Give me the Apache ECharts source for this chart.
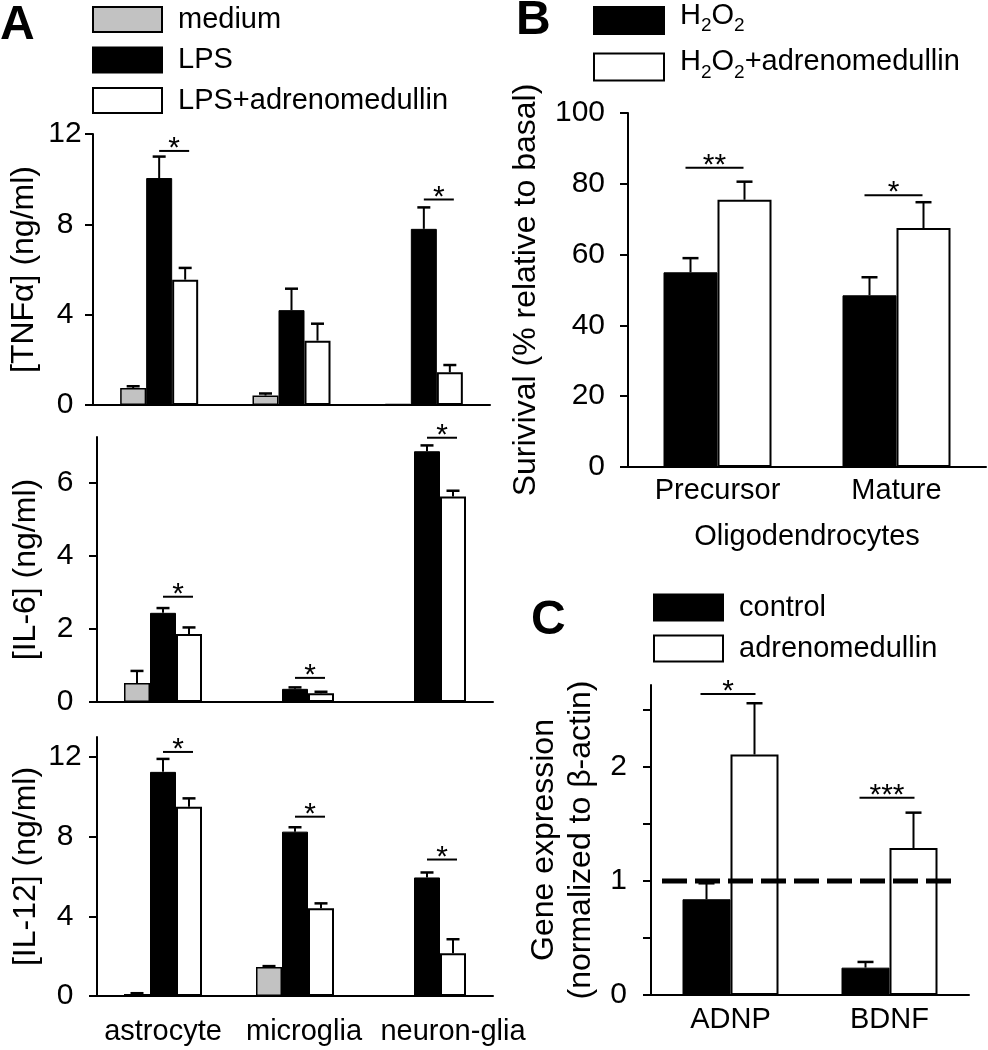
<!DOCTYPE html>
<html>
<head>
<meta charset="utf-8">
<script src="https://cdn.jsdelivr.net/npm/echarts@6/dist/echarts.min.js"></script>
<style>
  html, body { margin: 0; padding: 0; background: #fff; }
  #chart { width: 988px; height: 1050px; }
</style>
</head>
<body>
<div id="chart"></div>
<script>
// ---- panel A: cytokines (ng/ml), mean and SEM ----
const cellTypes = ['astrocyte', 'microglia', 'neuron-glia'];

const tnfMedium = [0.75, 0.42, 0.04];
const tnfMediumSem = [0.08, 0.09, 0];
const tnfLps = [10.05, 4.2, 7.8];
const tnfLpsSem = [0.95, 0.95, 0.95];
const tnfLpsAdm = [5.55, 2.85, 1.45];
const tnfLpsAdmSem = [0.52, 0.75, 0.32];
const tnfSig = [[0, 11.25, '*'], [2, 9.1, '*']];

const il6Medium = [0.52, null, null];
const il6MediumSem = [0.33, 0, 0];
const il6Lps = [2.44, 0.36, 6.86];
const il6LpsSem = [0.13, 0.04, 0.16];
const il6LpsAdm = [1.86, 0.24, 5.62];
const il6LpsAdmSem = [0.18, 0.04, 0.16];
const il6Sig = [[0, 2.88, '*'], [1, 0.66, '*'], [2, 7.23, '*']];

const il12Medium = [0.1, 1.45, null];
const il12MediumSem = [0.04, 0.05, 0];
const il12Lps = [11.25, 8.25, 5.95];
const il12LpsSem = [0.65, 0.22, 0.25];
const il12LpsAdm = [9.5, 4.4, 2.15];
const il12LpsAdmSem = [0.42, 0.25, 0.7];
const il12Sig = [[0, 12.25, '*'], [1, 9.0, '*'], [2, 6.85, '*']];

// ---- panel B: survival (% relative to basal) ----
const oligoStages = ['Precursor', 'Mature'];
const h2o2 = [55, 48.5];
const h2o2Sem = [4, 5.1];
const h2o2Adm = [75.5, 67.5];
const h2o2AdmSem = [5.1, 7.3];
const survivalSig = [[0, 84.5, '**'], [1, 76.8, '*']];

// ---- panel C: gene expression (normalized to beta-actin) ----
const genes = ['ADNP', 'BDNF'];
const control = [0.84, 0.24];
const controlSem = [0.14, 0.05];
const adm = [2.11, 1.29];
const admSem = [0.45, 0.31];
const geneSig = [[0, 2.64, '*'], [1, 1.73, '***']];
const baseline = 1;

const FONT = 'Liberation Sans, Arial, Helvetica, sans-serif';
const GRAY = '#c2c2c2';

const myChart = echarts.init(document.getElementById('chart'));

function bars(name, data, grid, color, width, border) {
  return {
    name: name,
    type: 'bar',
    xAxisIndex: grid,
    yAxisIndex: grid,
    data: data.map(v => (v === null ? '-' : v)),
    barWidth: width,
    barGap: '0%',
    itemStyle: { color: color, borderColor: '#000', borderWidth: border },
    emphasis: { disabled: true },
    z: 2
  };
}

// upper error bars drawn through the axes
function errors(grid, means, sems, offset, capW) {
  const pts = [];
  means.forEach((m, i) => {
    if (m !== null && sems[i] > 0) pts.push([i, m, sems[i]]);
  });
  return {
    type: 'custom',
    xAxisIndex: grid,
    yAxisIndex: grid,
    silent: true,
    z: 5,
    data: pts,
    renderItem: (params, api) => {
      const p0 = api.coord([api.value(0), api.value(1)]);
      const p1 = api.coord([api.value(0), api.value(1) + api.value(2)]);
      const x = p0[0] + offset;
      return {
        type: 'group',
        children: [
          { type: 'line', shape: { x1: x, y1: p0[1], x2: x, y2: p1[1] }, style: { stroke: '#000', lineWidth: 2 } },
          { type: 'line', shape: { x1: x - capW / 2, y1: p1[1], x2: x + capW / 2, y2: p1[1] }, style: { stroke: '#000', lineWidth: 2.5 } }
        ]
      };
    }
  };
}

// significance bar + stars
function stars(grid, marks, x0, x1) {
  return {
    type: 'custom',
    xAxisIndex: grid,
    yAxisIndex: grid,
    silent: true,
    z: 6,
    data: marks.map(m => [m[0], m[1]]),
    renderItem: (params, api) => {
      const p = api.coord([api.value(0), api.value(1)]);
      return {
        type: 'group',
        children: [
          { type: 'line', shape: { x1: p[0] + x0, y1: p[1], x2: p[0] + x1, y2: p[1] }, style: { stroke: '#000', lineWidth: 2 } },
          {
            type: 'text', x: p[0] + (x0 + x1) / 2, y: p[1] - 2,
            style: { text: marks[params.dataIndex][2], font: '30px ' + FONT, fill: '#000', align: 'center', verticalAlign: 'middle' }
          }
        ]
      };
    }
  };
}

const axisLine = { lineStyle: { color: '#000', width: 2 } };
const tick = { length: 8, lineStyle: { color: '#000', width: 2 } };

function xAx(grid, cats, showLabel, margin, name, formatter, rich) {
  return {
    type: 'category',
    gridIndex: grid,
    data: cats,
    axisLine: axisLine,
    axisTick: { show: false },
    axisLabel: { show: showLabel, color: '#000', fontSize: 29, margin: margin, interval: 0, formatter: formatter, rich: rich },
    name: name || '',
    nameLocation: 'middle',
    nameGap: 55,
    nameTextStyle: { color: '#000', fontSize: 29 }
  };
}

function yAx(grid, max, tickVals, labelVals, name, gap, labelMargin, labelAlign, nameLH) {
  return {
    type: 'value',
    gridIndex: grid,
    min: 0,
    max: max,
    splitLine: { show: false },
    axisLine: Object.assign({ show: true }, axisLine),
    axisTick: Object.assign({ show: true, customValues: tickVals }, tick),
    axisLabel: { color: '#000', fontSize: 30, margin: labelMargin, align: labelAlign, customValues: labelVals },
    name: name,
    nameLocation: 'middle',
    nameGap: gap,
    nameTextStyle: { color: '#000', fontSize: 32, lineHeight: nameLH || 32 }
  };
}

// A's bottom labels sit a little right of their bar groups, as in the figure
const cellLabel = (v, i) => (i === 1 ? '{m|' + v + '}' : i === 2 ? '{g|' + v + '}' : v);
const cellRich = {
  m: { fontSize: 29, color: '#000', padding: [0, 0, 0, 18] },
  g: { fontSize: 29, color: '#000', padding: [0, 0, 0, 52] }
};

const option = {
  animation: false,
  backgroundColor: '#fff',
  textStyle: { fontFamily: FONT, color: '#000' },
  title: [
    { text: 'A', left: 0, top: 2, padding: 0, textStyle: { fontSize: 48, fontWeight: 'bold', color: '#000' } },
    { text: 'B', left: 516, top: -3, padding: 0, textStyle: { fontSize: 48, fontWeight: 'bold', color: '#000' } },
    { text: 'C', left: 531, top: 597, padding: 0, textStyle: { fontSize: 48, fontWeight: 'bold', color: '#000' } }
  ],
  legend: [
    {
      data: ['medium', 'LPS', 'LPS+adrenomedullin'],
      orient: 'vertical', left: 92, top: 5, padding: 0,
      itemWidth: 69, itemHeight: 25, itemGap: 11.5,
      selectedMode: false, icon: 'rect',
      textStyle: { fontSize: 29, color: '#000', padding: [0, 0, 0, 11] }
    },
    {
      data: ['H2O2', 'H2O2+adrenomedullin'],
      orient: 'vertical', left: 593, top: 1, padding: 0,
      itemWidth: 70, itemHeight: 27, itemGap: 12,
      selectedMode: false, icon: 'rect',
      formatter: n => n.replace('H2O2', '{n|H}{s|2}{n|O}{s|2}').replace('+adrenomedullin', '{n|+adrenomedullin}'),
      textStyle: {
        fontSize: 29, color: '#000', padding: [0, 0, 0, 11],
        rich: {
          n: { fontSize: 29, color: '#000', padding: [0, 0, 10, 0] },
          s: { fontSize: 19, color: '#000', padding: [11, 0, 0, 0] }
        }
      }
    },
    {
      data: ['control', 'adrenomedullin'],
      orient: 'vertical', left: 653, top: 593, padding: 0,
      itemWidth: 69, itemHeight: 26, itemGap: 12,
      selectedMode: false, icon: 'rect',
      textStyle: { fontSize: 29, color: '#000', padding: [0, 0, 0, 11] }
    }
  ],
  grid: [
    { left: 93, top: 134, width: 397, height: 271 },
    { left: 97, top: 437, width: 396, height: 265 },
    { left: 97, top: 737, width: 396, height: 259 },
    { left: 628, top: 113, width: 358, height: 354 },
    { left: 651, top: 685, width: 318, height: 310 }
  ],
  xAxis: [
    xAx(0, cellTypes, false, 20),
    xAx(1, cellTypes, false, 20),
    xAx(2, cellTypes, true, 21, '', cellLabel, cellRich),
    xAx(3, oligoStages, true, 9, 'Oligodendrocytes'),
    xAx(4, genes, true, 10)
  ],
  yAxis: [
    yAx(0, 12, [0, 4, 8, 12], [0, 4, 8, 12], '[TNF\u03b1] (ng/ml)', 53, 28, 'center'),
    yAx(1, 7.25, [0, 2, 4, 6], [0, 2, 4, 6], '[IL-6] (ng/ml)', 55, 32, 'center'),
    yAx(2, 13, [0, 4, 8, 12], [0, 4, 8, 12], '[IL-12] (ng/ml)', 55, 32, 'center'),
    yAx(3, 100, [0, 20, 40, 60, 80, 100], [0, 20, 40, 60, 80, 100], 'Surivival (% relative to basal)', 86, 23, 'right'),
    yAx(4, 2.72, [0, 0.5, 1, 1.5, 2, 2.5], [0, 1, 2], 'Gene expression\n(normalized to \u03b2-actin)', 51, 24, 'right', 37)
  ],
  series: [
    // A - TNF
    bars('medium', tnfMedium, 0, GRAY, 26, 1.5),
    bars('LPS', tnfLps, 0, '#000', 26, 1),
    bars('LPS+adrenomedullin', tnfLpsAdm, 0, '#fff', 26, 2),
    errors(0, tnfMedium, tnfMediumSem, -26, 13),
    errors(0, tnfLps, tnfLpsSem, 0, 13),
    errors(0, tnfLpsAdm, tnfLpsAdmSem, 26, 13),
    stars(0, tnfSig, 0, 30),
    // A - IL-6
    bars('medium', il6Medium, 1, GRAY, 26, 1.5),
    bars('LPS', il6Lps, 1, '#000', 26, 1),
    bars('LPS+adrenomedullin', il6LpsAdm, 1, '#fff', 26, 2),
    errors(1, il6Medium, il6MediumSem, -26, 13),
    errors(1, il6Lps, il6LpsSem, 0, 13),
    errors(1, il6LpsAdm, il6LpsAdmSem, 26, 13),
    stars(1, il6Sig, 0, 30),
    // A - IL-12
    bars('medium', il12Medium, 2, GRAY, 26, 1.5),
    bars('LPS', il12Lps, 2, '#000', 26, 1),
    bars('LPS+adrenomedullin', il12LpsAdm, 2, '#fff', 26, 2),
    errors(2, il12Medium, il12MediumSem, -26, 13),
    errors(2, il12Lps, il12LpsSem, 0, 13),
    errors(2, il12LpsAdm, il12LpsAdmSem, 26, 13),
    stars(2, il12Sig, 0, 30),
    // B
    bars('H2O2', h2o2, 3, '#000', 54, 1),
    bars('H2O2+adrenomedullin', h2o2Adm, 3, '#fff', 54, 2),
    errors(3, h2o2, h2o2Sem, -27, 16),
    errors(3, h2o2Adm, h2o2AdmSem, 27, 16),
    stars(3, survivalSig, -32, 26),
    // C
    bars('control', control, 4, '#000', 48, 1),
    bars('adrenomedullin', adm, 4, '#fff', 48, 2),
    errors(4, control, controlSem, -24, 16),
    errors(4, adm, admSem, 24, 16),
    stars(4, geneSig, -30, 25),
    {
      // dashed reference line at 1 (basal expression)
      type: 'custom',
      xAxisIndex: 4,
      yAxisIndex: 4,
      silent: true,
      z: 4,
      data: [[0, baseline]],
      renderItem: (params, api) => {
        const cs = params.coordSys;
        const y = api.coord([0, api.value(1)])[1];
        return {
          type: 'line',
          shape: { x1: cs.x + 11, y1: y, x2: cs.x + cs.width - 17, y2: y },
          style: { stroke: '#000', lineWidth: 5, lineDash: [25, 8] }
        };
      }
    }
  ]
};

myChart.setOption(option);
</script>
</body>
</html>
